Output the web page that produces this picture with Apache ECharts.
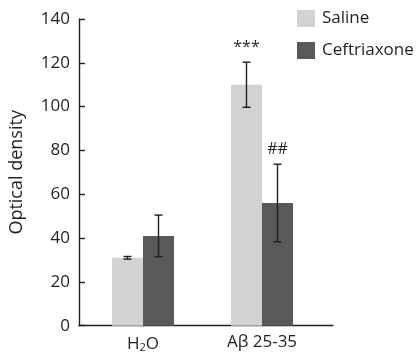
<!DOCTYPE html>
<html>
<head>
<meta charset="utf-8">
<script src="https://cdn.jsdelivr.net/npm/echarts@6/dist/echarts.min.js"></script>
<style>html,body{margin:0;padding:0;background:#fff;}#c{width:418px;height:359px;}</style>
</head>
<body>
<div id="c"></div>
<script>
var categories = ['H2O', 'Aβ 25-35'];
var salineValues = [31, 110];
var salineErrors = [0.6, 10.3];
var ceftriaxoneValues = [41, 56];
var ceftriaxoneErrors = [9.5, 17.7];
var salineMarks = ['', '***'];
var ceftriaxoneMarks = ['', '##'];
var yTicks = [0, 20, 40, 60, 80, 100, 120, 140];

var TXT = '#231f20';
var FONT = 'Open Sans';
var BAR_W = 31;

function errSeries(name, values, errors, marks, offset) {
  return {
    type: 'custom', name: name + ' err', xAxisIndex: 0, yAxisIndex: 0, z: 5,
    silent: true,
    data: values.map(function (v, i) { return [i, v, errors[i]]; }),
    renderItem: function (params, api) {
      var i = api.value(0), v = api.value(1), e = api.value(2);
      var mark = marks[params.dataIndex];
      var top = api.coord([i, v + e]);
      var bot = api.coord([i, v - e]);
      var x = top[0] + offset;
      var cap = 4;
      var st = { stroke: TXT, lineWidth: 1.4 };
      var children = [
        { type: 'line', shape: { x1: x, y1: top[1], x2: x, y2: bot[1] }, style: st },
        { type: 'line', shape: { x1: x - cap, y1: top[1], x2: x + cap, y2: top[1] }, style: st },
        { type: 'line', shape: { x1: x - cap, y1: bot[1], x2: x + cap, y2: bot[1] }, style: st }
      ];
      if (mark) {
        children.push({ type: 'text', style: { text: mark, x: x, y: top[1] - 15, align: 'center', verticalAlign: 'middle', fill: TXT, font: '16px "' + FONT + '"' } });
      }
      return { type: 'group', children: children };
    }
  };
}

var chart = echarts.init(document.getElementById('c'), null, { renderer: 'canvas' });
chart.setOption({
  animation: false,
  backgroundColor: '#ffffff',
  textStyle: { fontFamily: FONT, color: TXT },
  legend: {
    orient: 'vertical', left: 297, top: 10, padding: 0, itemWidth: 18, itemHeight: 17, itemGap: 15,
    icon: 'rect', textStyle: { fontSize: 17, color: TXT, fontFamily: FONT, padding: [0, 0, 0, 2] },
    data: ['Saline', 'Ceftriaxone']
  },
  grid: [
    { left: 83.5, width: 238, top: 19, bottom: 33.3 },
    { left: 77, width: 256, top: 19, bottom: 33.3 }
  ],
  xAxis: [
    {
      type: 'category', gridIndex: 0, data: categories,
      axisLine: { show: false }, axisTick: { show: false },
      axisLabel: {
        margin: 8, fontSize: 17, color: TXT, fontFamily: FONT,
        formatter: function (v) { return v === 'H2O' ? 'H{sub|2}O' : v; },
        rich: { sub: { fontSize: 11, verticalAlign: 'bottom', padding: [9, 0, 0, 0], color: TXT, fontFamily: FONT } }
      }
    },
    {
      type: 'value', gridIndex: 1, min: 0, max: 1,
      axisLine: { show: true, lineStyle: { color: TXT, width: 1.4 } },
      axisTick: { show: false }, axisLabel: { show: false }, splitLine: { show: false }
    }
  ],
  yAxis: [
    { type: 'value', gridIndex: 0, min: 0, max: 140, show: false, splitLine: { show: false } },
    {
      type: 'value', gridIndex: 1, min: yTicks[0], max: yTicks[yTicks.length - 1], interval: 20,
      name: 'Optical density', nameLocation: 'middle', nameGap: 53,
      nameTextStyle: { fontSize: 18, color: TXT, fontFamily: FONT },
      axisLine: { show: true, lineStyle: { color: TXT, width: 1.4 } },
      axisTick: { show: true, inside: true, length: 6, lineStyle: { color: TXT, width: 1.4 } },
      axisLabel: { margin: 9, fontSize: 17, color: TXT, fontFamily: FONT },
      splitLine: { show: false }
    }
  ],
  series: [
    { type: 'bar', name: 'Saline', xAxisIndex: 0, yAxisIndex: 0, data: salineValues, barWidth: BAR_W, barGap: '0%', itemStyle: { color: '#d1d2d4' } },
    { type: 'bar', name: 'Ceftriaxone', xAxisIndex: 0, yAxisIndex: 0, data: ceftriaxoneValues, barWidth: BAR_W, barGap: '0%', itemStyle: { color: '#58595b' } },
    errSeries('Saline', salineValues, salineErrors, salineMarks, -BAR_W / 2),
    errSeries('Ceftriaxone', ceftriaxoneValues, ceftriaxoneErrors, ceftriaxoneMarks, BAR_W / 2)
  ]
});
</script>
</body>
</html>
